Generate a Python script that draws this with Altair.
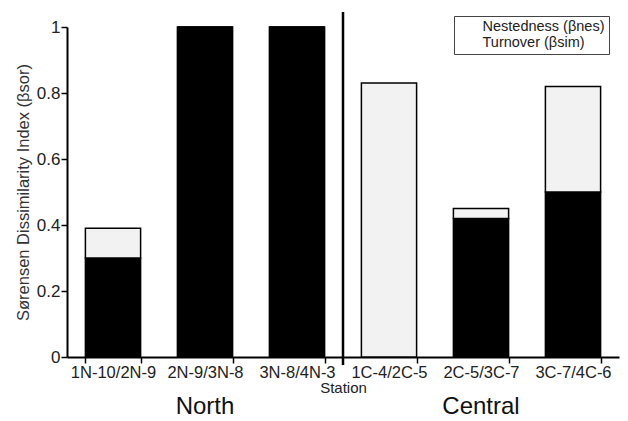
import altair as alt
import pandas as pd

stations = ["1N-10/2N-9", "2N-9/3N-8", "3N-8/4N-3", "1C-4/2C-5", "2C-5/3C-7", "3C-7/4C-6"]
turnover = [0.30, 1.00, 1.00, 0.00, 0.42, 0.50]
nestedness = [0.09, 0.00, 0.00, 0.83, 0.03, 0.32]
components = ["Nestedness (βnes)", "Turnover (βsim)"]
regions = ["North", "Central"]
region_centers = ["2N-9/3N-8", "2C-5/3C-7"]
y_ticks = [0, 0.2, 0.4, 0.6, 0.8, 1.0]

rows = []
for s, t, n in zip(stations, turnover, nestedness):
    rows.append({"station": s, "component": components[1], "value": t, "ord": 0})
    rows.append({"station": s, "component": components[0], "value": n, "ord": 1})
df = pd.DataFrame(rows)

FONT = "Liberation Sans"
W, H = 552, 330

x_enc = alt.X(
    "station:N",
    sort=stations,
    title="Station",
    scale=alt.Scale(paddingInner=0.4, paddingOuter=0.2),
    axis=alt.Axis(
        labelAngle=0, labelFontSize=16.5, labelColor="#222", titleFontSize=15,
        titleFontWeight="normal", titleColor="#222", titlePadding=0,
        tickBand="extent", tickSize=6, tickWidth=1.5, tickColor="black",
        domainColor="black", domainWidth=2, labelPadding=1,
    ),
)

bars = alt.Chart(df).mark_bar(stroke="black", strokeWidth=1.5).encode(
    x=x_enc,
    y=alt.Y(
        "value:Q",
        stack="zero",
        scale=alt.Scale(domain=[0, 1], nice=False),
        title="Sørensen Dissimilarity Index (βsor)",
        axis=alt.Axis(
            values=y_ticks, format="~g", grid=False, labelFontSize=17, labelColor="#222",
            titleFontSize=16.5, titleFontWeight="normal", titleColor="#333", titlePadding=5,
            tickSize=6, tickWidth=1.5, tickColor="black", domainColor="black", domainWidth=2,
            labelPadding=1,
        ),
    ),
    color=alt.Color(
        "component:N",
        scale=alt.Scale(domain=components, range=["#f2f2f2", "black"]),
        legend=alt.Legend(
            title=None, orient="none", legendX=387, legendY=-11,
            symbolOpacity=0, symbolStrokeWidth=0, symbolSize=10,
            labelFontSize=14.5, labelFont=FONT, labelColor="#222",
            strokeColor="#444", padding=4, rowPadding=1, labelOffset=10,
        ),
    ),
    order=alt.Order("ord:Q"),
)

divider = alt.Chart(pd.DataFrame({"station": ["1C-4/2C-5"]})).mark_rule(
    color="black", strokeWidth=2.5, xOffset=-18.4
).encode(
    x=alt.X("station:N", sort=stations, bandPosition=0),
    y=alt.value(-15),
    y2=alt.value(H + 8),
)

region_df = pd.DataFrame({"station": region_centers, "region": regions})
region_text = alt.Chart(region_df).mark_text(fontSize=24, font=FONT, color="#111").encode(
    x=alt.X("station:N", sort=stations),
    y=alt.value(H + 50),
    text="region:N",
)

chart = alt.layer(bars, divider, region_text).properties(
    width=W, height=H,
    autosize=alt.AutoSizeParams(type="none"),
    padding={"left": 67, "top": 27, "right": 9, "bottom": 64},
).configure(font=FONT).configure_view(stroke=None)

chart.save("out.html", embed_options={"renderer": "svg", "actions": False})
